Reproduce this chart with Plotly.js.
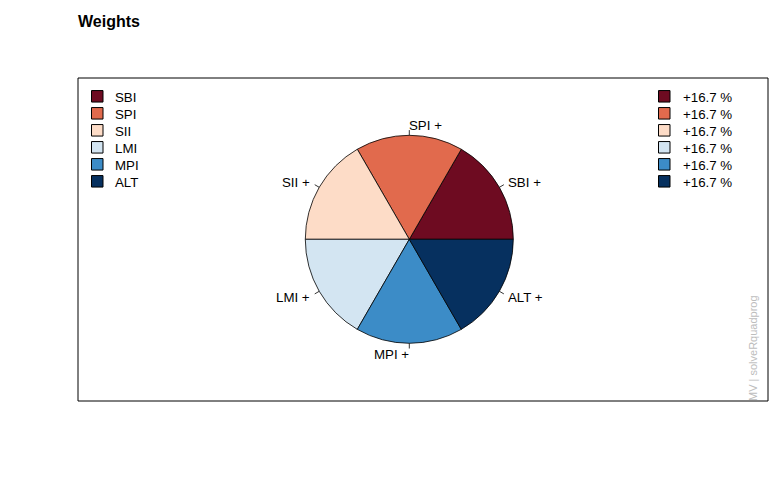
<!DOCTYPE html>
<html>
<head>
<meta charset="utf-8">
<script src="https://cdn.plot.ly/plotly-3.0.1.min.js"></script>
<style>html,body{margin:0;padding:0;background:#fff;}#chart{width:781px;height:498px;}</style>
</head>
<body>
<div id="chart"></div>
<script>
// ---- data ----
var assets = ['SBI', 'SPI', 'SII', 'LMI', 'MPI', 'ALT'];
var weights = [16.67, 16.67, 16.67, 16.67, 16.67, 16.67];
var colors = ['#6E0B21', '#E16A4D', '#FDDCC7', '#D3E5F2', '#3C8CC7', '#06305F'];
var titleText = 'Weights';
var sideText = 'MV | solveRquadprog';

// ---- layout geometry (pixels) ----
var W = 781, H = 498;
var cx = 409.3, cy = 239.3, R = 104;
var box = {x0: 78, y0: 78, x1: 768, y1: 401};
var fontFam = 'Liberation Sans, Arial, Helvetica, sans-serif';
var fs = 13.3;
var pad = 2;   // annotation inner padding compensation
var dy = 0.8;  // small vertical text shift
function px(x) { return x / W; }
function py(y) { return 1 - y / H; }

var total = weights.reduce(function (a, b) { return a + b; }, 0);
var pct = weights.map(function (w) { return (w >= 0 ? '+' : '') + (w / total * 100).toFixed(1) + ' %'; });
var sign = weights.map(function (w) { return w >= 0 ? ' +' : ' -'; });

// Plotly counterclockwise pies put the first slice clockwise of the rotation line,
// so shift by the first slice's angle to start it at 3 o'clock like R.
var rot = 90 - 360 * weights[0] / total;

var trace = {
  type: 'pie',
  labels: assets,
  values: weights,
  sort: false,
  direction: 'counterclockwise',
  rotation: rot,
  textinfo: 'none',
  hoverinfo: 'label+percent',
  marker: {colors: colors, line: {color: '#000', width: 0.8}},
  domain: {x: [px(cx - R), px(cx + R)], y: [py(cy + R), py(cy - R)]},
  showlegend: false
};

var shapes = [{type: 'rect', xref: 'paper', yref: 'paper',
  x0: px(box.x0), x1: px(box.x1), y0: py(box.y0), y1: py(box.y1),
  line: {color: '#000', width: 1}, fillcolor: 'rgba(0,0,0,0)'}];
var annotations = [];

// slice labels with ticks (R pie style)
var cum = 0;
for (var i = 0; i < weights.length; i++) {
  var mid = 2 * Math.PI * (cum + weights[i] / 2) / total;
  cum += weights[i];
  var c = Math.cos(mid), s = Math.sin(mid);
  shapes.push({type: 'line', xref: 'paper', yref: 'paper',
    x0: px(cx + R * c), y0: py(cy - R * s),
    x1: px(cx + 1.05 * R * c), y1: py(cy - 1.05 * R * s),
    line: {color: '#000', width: 0.8}});
  var lx = cx + 1.1 * R * c + (c < 0 ? pad : -pad);
  annotations.push({xref: 'paper', yref: 'paper', showarrow: false,
    x: px(lx), y: py(cy - 1.1 * R * s + dy),
    xanchor: c < 0 ? 'right' : 'left', yanchor: 'middle',
    text: assets[i] + sign[i], font: {family: fontFam, size: fs, color: '#000'}});
}

// legends
var rowY0 = 96.3, rowDY = 17, sq = 11.5;
var legends = [{sqX: 91.5, txtX: 115.3, texts: assets}, {sqX: 658.5, txtX: 682.5, texts: pct}];
legends.forEach(function (lg) {
  for (var k = 0; k < assets.length; k++) {
    var yc = rowY0 + k * rowDY;
    shapes.push({type: 'rect', xref: 'paper', yref: 'paper',
      x0: px(lg.sqX), x1: px(lg.sqX + sq), y0: py(yc + sq / 2), y1: py(yc - sq / 2),
      fillcolor: colors[k], line: {color: '#000', width: 1}});
    annotations.push({xref: 'paper', yref: 'paper', showarrow: false,
      x: px(lg.txtX - pad), y: py(yc + dy), xanchor: 'left', yanchor: 'middle',
      text: lg.texts[k], font: {family: fontFam, size: fs, color: '#000'}});
  }
});

// side text
annotations.push({xref: 'paper', yref: 'paper', showarrow: false,
  x: px(753), y: py(box.y1 + 2), xanchor: 'center', yanchor: 'bottom', textangle: -90,
  text: sideText, font: {family: fontFam, size: 11, color: '#BDBDBD'}});

var layout = {
  width: W, height: H,
  margin: {l: 0, r: 0, t: 0, b: 0},
  paper_bgcolor: '#fff', plot_bgcolor: '#fff',
  title: {text: '<b>' + titleText + '</b>', x: px(78), xanchor: 'left', xref: 'paper',
    y: py(21), yanchor: 'middle', yref: 'container',
    font: {family: fontFam, size: 16, color: '#000'}},
  shapes: shapes,
  annotations: annotations,
  showlegend: false
};

Plotly.newPlot('chart', [trace], layout, {displayModeBar: false, staticPlot: true});
</script>
</body>
</html>
